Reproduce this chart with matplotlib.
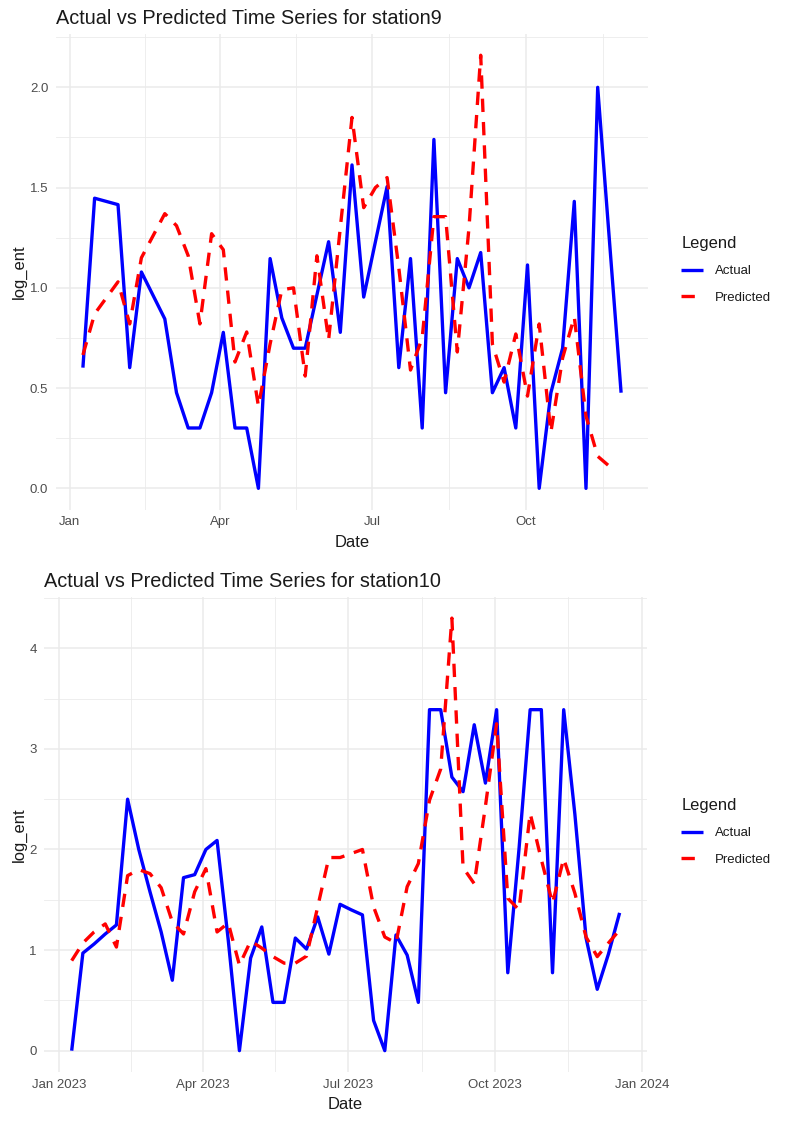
import numpy as np
import pandas as pd
import matplotlib
matplotlib.use("Agg")
import matplotlib.pyplot as plt
import matplotlib.dates as mdates
from matplotlib.ticker import FixedLocator, FuncFormatter, NullFormatter

plt.rcParams['font.family'] = ['Liberation Sans', 'DejaVu Sans']

# ---------------- data ----------------
START = "2023-01-09"   # first weekly observation

# station9
s9_actual_weeks = [0, 1, 3, 4, 5, 7, 8, 9, 10, 11, 12, 13, 14, 15, 16, 17, 18, 19,
                   21, 22, 23, 24, 26, 27, 28, 29, 30, 31, 32, 33, 34, 35, 36, 37,
                   38, 39, 40, 41, 42, 43, 44, 46]
s9_actual = [0.602, 1.447, 1.415, 0.602, 1.079, 0.845, 0.477, 0.301, 0.301, 0.477,
             0.778, 0.301, 0.301, 0.000, 1.146, 0.850, 0.699, 0.699, 1.230, 0.778,
             1.613, 0.954, 1.505, 0.602, 1.146, 0.301, 1.740, 0.477, 1.146, 1.000,
             1.176, 0.477, 0.602, 0.301, 1.114, 0.000, 0.477, 0.699, 1.431, 0.000,
             2.000, 0.477]
s9_pred_weeks = list(range(0, 46))
s9_pred = [0.665, 0.870, 0.950, 1.030, 0.820, 1.150, 1.260, 1.370, 1.310, 1.160,
           0.820, 1.270, 1.190, 0.630, 0.780, 0.410, 0.720, 0.990, 1.000, 0.560,
           1.160, 0.740, 1.300, 1.850, 1.400, 1.500, 1.550, 1.100, 0.590, 0.750,
           1.355, 1.355, 0.680, 1.300, 2.160, 0.720, 0.530, 0.770, 0.460, 0.820,
           0.280, 0.650, 0.855, 0.360, 0.160, 0.110]

# station10
s10_actual_weeks = list(range(0, 50))
s10_actual = [0.00, 0.97, 1.06, 1.16, 1.25, 2.50, 2.00, 1.58, 1.18, 0.70,
              1.72, 1.75, 2.00, 2.09, 1.10, 0.00, 0.92, 1.23, 0.48, 0.48,
              1.12, 1.01, 1.33, 0.96, 1.455, 1.40, 1.35, 0.30, 0.00, 1.15,
              0.95, 0.48, 3.39, 3.39, 2.72, 2.575, 3.24, 2.66, 3.39, 0.775,
              2.00, 3.39, 3.39, 0.775, 3.39, 2.35, 1.12, 0.61, 0.96, 1.37]
s10_pred_weeks = list(range(0, 50))
s10_pred = [0.895, 1.07, 1.18, 1.26, 1.03, 1.74, 1.80, 1.76, 1.62, 1.28,
            1.16, 1.58, 1.81, 1.18, 1.27, 0.85, 1.09, 1.02, 0.935, 0.87,
            0.87, 0.94, 1.43, 1.92, 1.92, 1.96, 2.00, 1.43, 1.13, 1.07,
            1.63, 1.86, 2.49, 2.80, 4.30, 1.82, 1.66, 2.43, 3.25, 1.515,
            1.40, 2.36, 1.90, 1.465, 1.91, 1.565, 1.13, 0.935, 1.07, 1.20]

titles = ["Actual vs Predicted Time Series for station9",
          "Actual vs Predicted Time Series for station10"]
series_labels = ["Actual", "Predicted"]
legend_title = "Legend"
x_label = "Date"
y_label = "log_ent"

# ---------------- styling ----------------
BLUE = "#0000FF"
RED = "#FF0000"
GRID = "#EBEBEB"
TICK_COLOR = "#4D4D4D"
TICK_SIZE = 9.5
LABEL_SIZE = 11.9
TITLE_SIZE = 14.3
LW = 2.4

W, H = 786, 1123
fig = plt.figure(figsize=(W / 100, H / 100), dpi=100)


def to_dates(weeks):
    return pd.to_datetime(START) + pd.to_timedelta(7 * np.asarray(weeks), unit="D")


def box(l, r, t, b):
    return [l / W, 1 - b / H, (r - l) / W, (b - t) / H]


def draw(rect, aw, av, pw, pv, title, ymajor, yminor, yfmt, xfmt, leg_y):
    ax = fig.add_axes(rect)
    ad, pd_ = to_dates(aw), to_dates(pw)
    ax.plot(ad, av, color=BLUE, lw=LW, solid_joinstyle="round",
            solid_capstyle="butt", label=series_labels[0], zorder=3)
    ax.plot(pd_, pv, color=RED, lw=LW, linestyle=(0, (4, 3)),
            dash_capstyle="butt", dash_joinstyle="round",
            label=series_labels[1], zorder=4)

    # limits with 5% expansion (ggplot default)
    xs = np.concatenate([mdates.date2num(ad), mdates.date2num(pd_)])
    span = xs.max() - xs.min()
    ax.set_xlim(xs.min() - 0.05 * span, xs.max() + 0.05 * span)
    ys = np.concatenate([av, pv])
    yspan = ys.max() - ys.min()
    ax.set_ylim(ys.min() - 0.05 * yspan, ys.max() + 0.05 * yspan)

    # x ticks: quarter starts, minor at midpoints
    qs = pd.date_range("2022-07-01", "2024-07-01", freq="QS")
    qn = mdates.date2num(qs)
    mids = (qn[:-1] + qn[1:]) / 2
    ax.xaxis.set_major_locator(FixedLocator(qn))
    ax.xaxis.set_minor_locator(FixedLocator(mids))
    ax.xaxis.set_major_formatter(mdates.DateFormatter(xfmt))
    ax.xaxis.set_minor_formatter(NullFormatter())

    ax.yaxis.set_major_locator(FixedLocator(ymajor))
    ax.yaxis.set_minor_locator(FixedLocator(yminor))
    ax.yaxis.set_major_formatter(FuncFormatter(lambda v, p: yfmt.format(v)))

    ax.grid(True, which="major", color=GRID, lw=1.1, zorder=0)
    ax.grid(True, which="minor", color=GRID, lw=0.6, zorder=0)
    ax.set_axisbelow(True)
    for s in ax.spines.values():
        s.set_visible(False)
    ax.tick_params(which="both", length=0)
    ax.tick_params(axis="x", which="major", pad=4.5, labelsize=TICK_SIZE,
                   labelcolor=TICK_COLOR)
    ax.tick_params(axis="y", which="major", pad=5.5, labelsize=TICK_SIZE,
                   labelcolor=TICK_COLOR)

    ax.set_xlabel(x_label, fontsize=LABEL_SIZE, labelpad=5, color="#1A1A1A")
    ax.set_ylabel(y_label, fontsize=LABEL_SIZE, labelpad=2, color="#1A1A1A")
    ax.set_title(title, loc="left", fontsize=TITLE_SIZE, pad=7, color="#1A1A1A")

    leg = ax.legend(loc="center left", bbox_to_anchor=(669.5 / W, 1 - leg_y / H),
                    bbox_transform=fig.transFigure, frameon=False,
                    title=legend_title, fontsize=TICK_SIZE,
                    title_fontsize=LABEL_SIZE, handlelength=1.65,
                    handletextpad=0.9, labelspacing=1.05, borderpad=0.4,
                    alignment="left")
    for t in leg.get_texts():
        t.set_color("#1A1A1A")
    leg.get_title().set_color("#1A1A1A")
    return ax


draw(box(56, 648, 33.6, 510), s9_actual_weeks, s9_actual, s9_pred_weeks, s9_pred,
     titles[0], [0, 0.5, 1.0, 1.5, 2.0], [0.25, 0.75, 1.25, 1.75, 2.25],
     "{:.1f}", "%b", 270)

draw(box(44.3, 647, 596.5, 1072.3), s10_actual_weeks, s10_actual, s10_pred_weeks,
     s10_pred, titles[1], [0, 1, 2, 3, 4], [0.5, 1.5, 2.5, 3.5, 4.5],
     "{:.0f}", "%b %Y", 832)

fig.savefig("out.png", dpi=100)
